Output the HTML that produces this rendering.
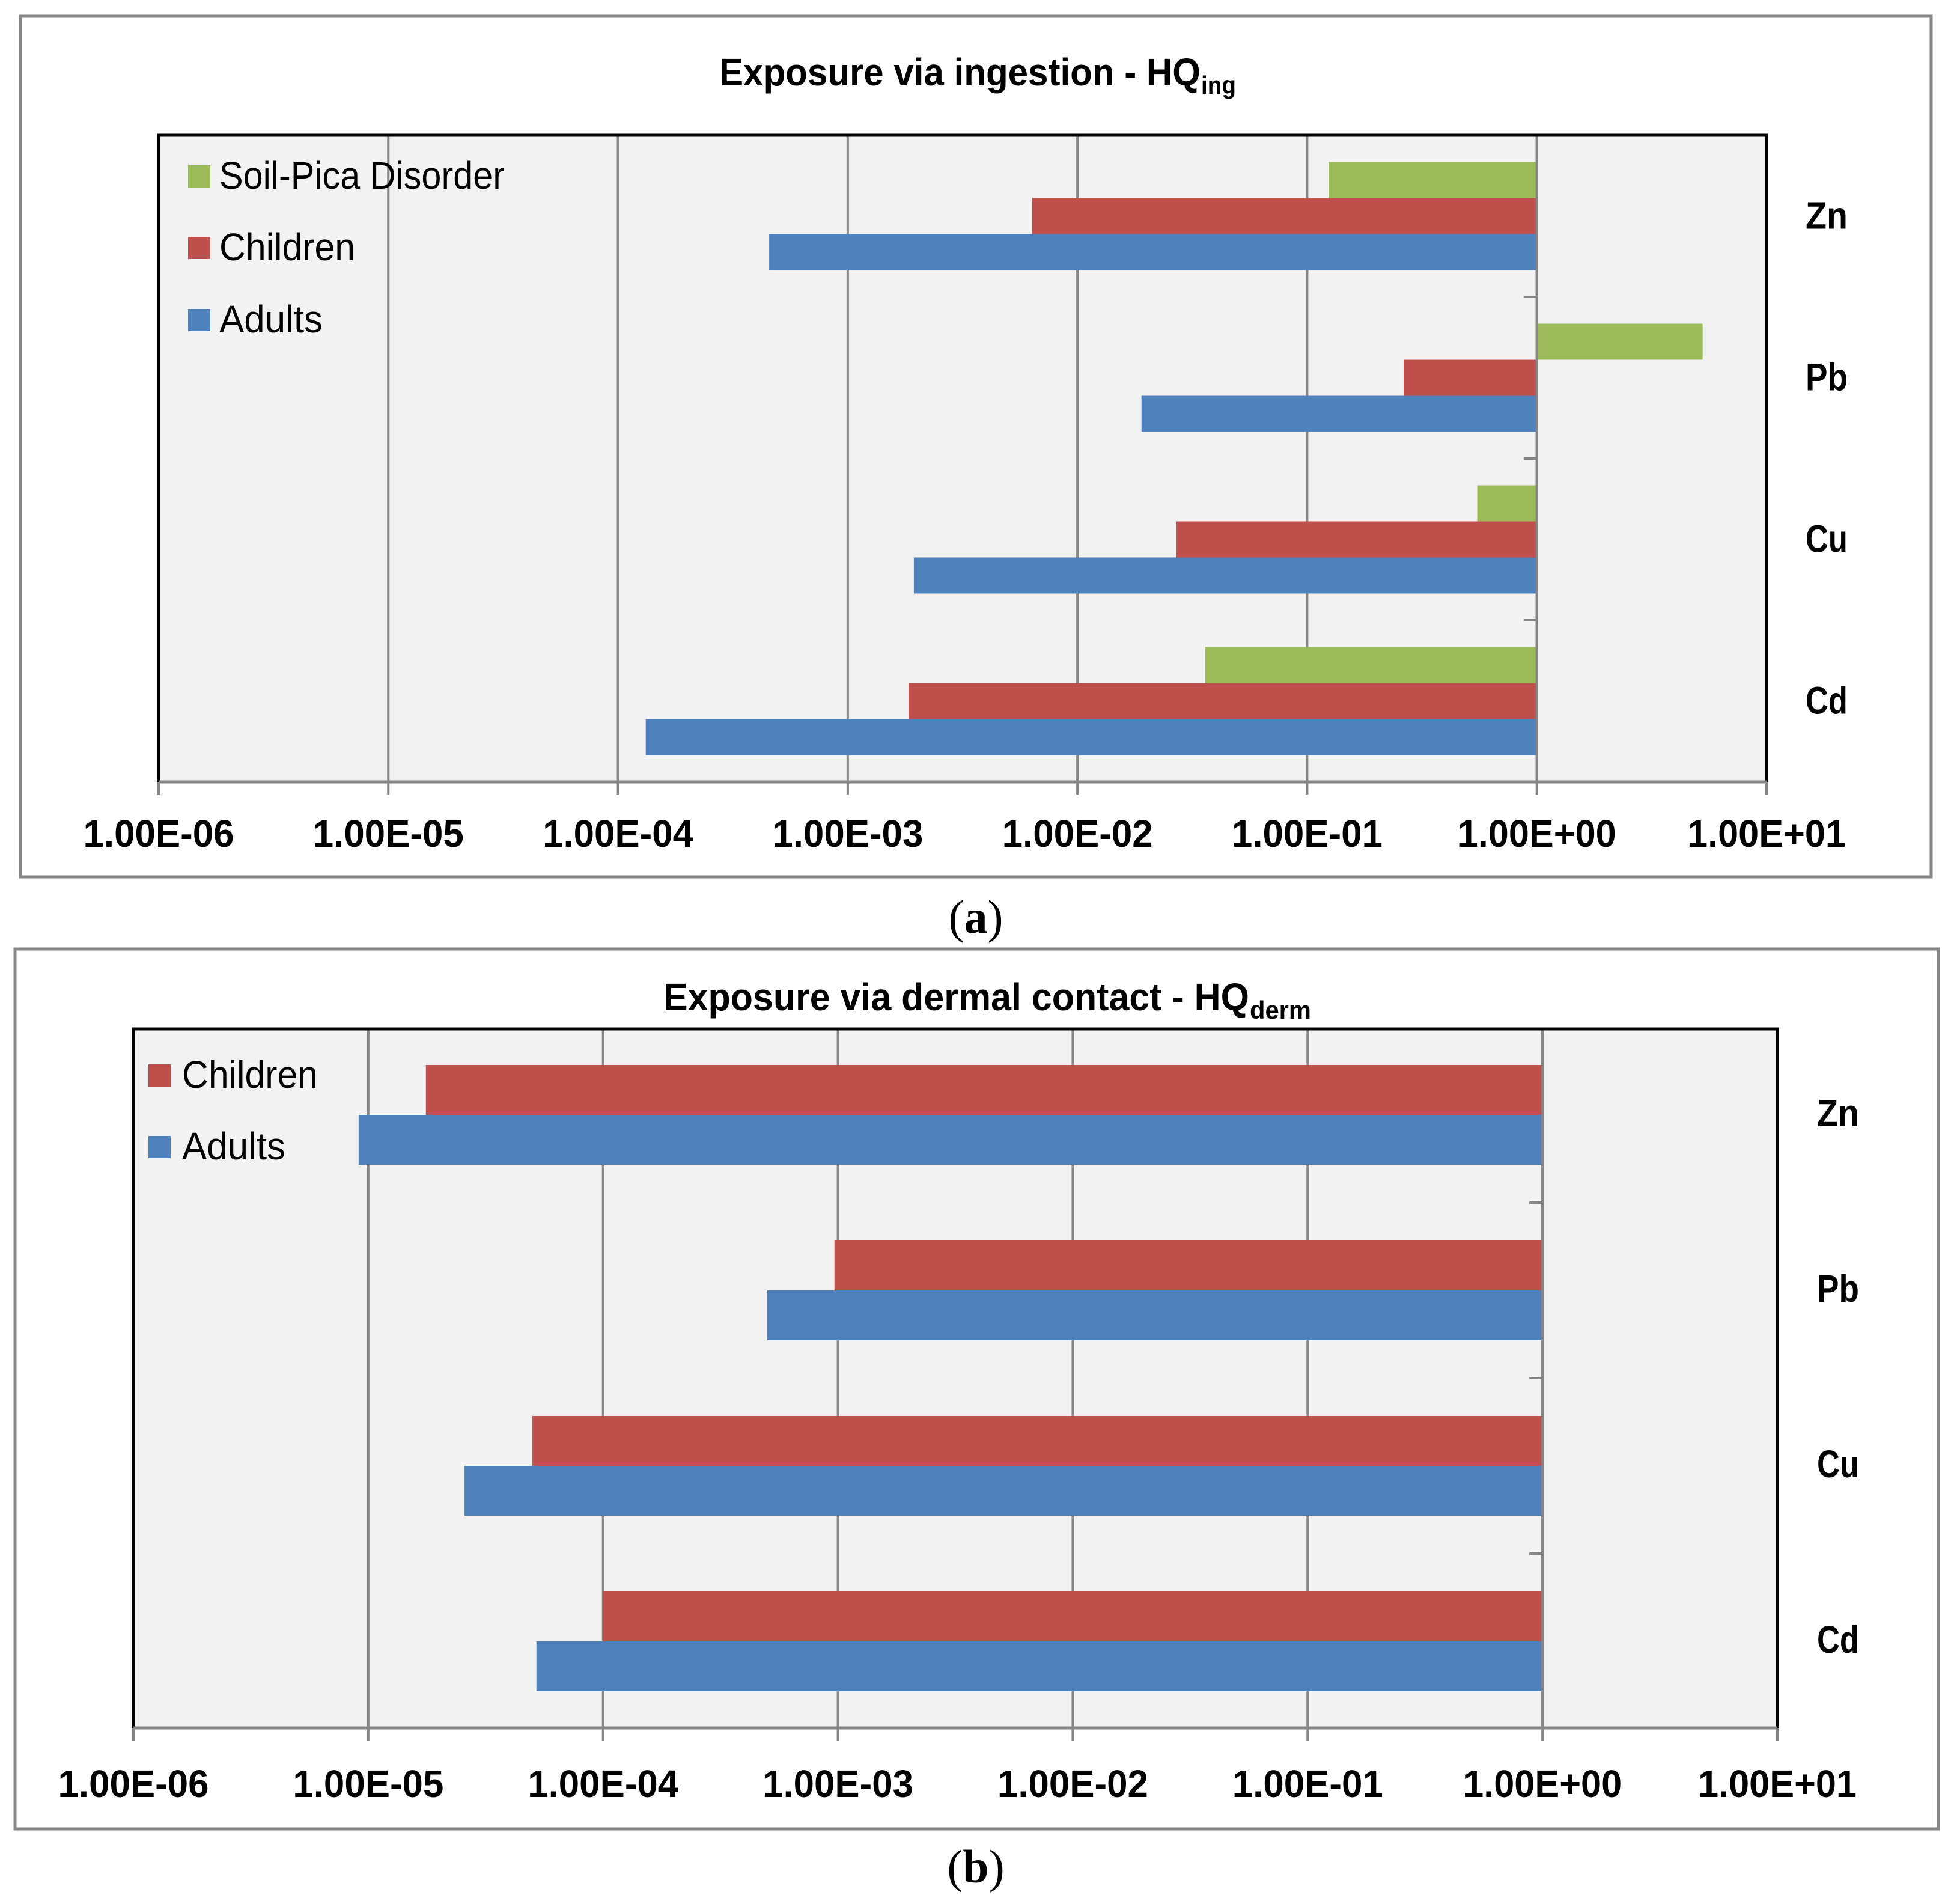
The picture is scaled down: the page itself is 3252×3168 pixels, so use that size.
<!DOCTYPE html>
<html lang="en">
<head>
<meta charset="utf-8">
<title>Hazard quotient exposure charts</title>
<style>
html,body{margin:0;padding:0;background:#fff;width:3252px;height:3168px;overflow:hidden}
svg{display:block}
text{font-family:"Liberation Sans",sans-serif;fill:#000}
.serif{font-family:"Liberation Serif",serif}
</style>
</head>
<body>
<svg id="figure" xmlns="http://www.w3.org/2000/svg" width="3252" height="3168" viewBox="0 0 3252 3168">
  <rect x="0" y="0" width="3252" height="3168" fill="#fff"/>
  <text class="serif" x="1624" y="1552" font-size="78" text-anchor="middle">(<tspan font-weight="bold">a</tspan>)</text>
  <text class="serif" x="1624" y="3132" font-size="78" text-anchor="middle">(<tspan font-weight="bold">b</tspan>)</text>
</svg>
<script>
const categories = ["Zn", "Pb", "Cu", "Cd"];
const tickLabels = ["1.00E-06", "1.00E-05", "1.00E-04", "1.00E-03", "1.00E-02", "1.00E-01", "1.00E+00", "1.00E+01"];

const ingestionSoilPica = [0.124, 5.27, 0.55, 0.036];
const ingestionChildren = [0.00635, 0.263, 0.027, 0.00184];
const ingestionAdults = [0.000455, 0.019, 0.00194, 0.000132];

const dermalChildren = [0.0000176, 0.000966, 0.00005, 0.0001];
const dermalAdults = [0.0000091, 0.0005, 0.0000257, 0.000052];

const GREEN = "#9BBB59", RED = "#C0504D", BLUE = "#4F81BD", GRID = "#868686";
const svg = document.getElementById("figure");

function mk(tag, attrs, parent) {
  const el = document.createElementNS("http://www.w3.org/2000/svg", tag);
  for (const k in attrs) el.setAttribute(k, attrs[k]);
  (parent || svg).appendChild(el);
  return el;
}
function slug(s) { return s.toLowerCase().replace(/[^a-z0-9]+/g, "-"); }

function drawChart(c) {
  const g = mk("g", {});
  
  

  const panel = mk("rect", {x: c.px0, y: c.py0, width: c.px1 - c.px0, height: c.py1 - c.py0, fill: "#fff", stroke: GRID, "stroke-width": 5}, g);
  
  

  const plot = mk("rect", {x: c.x0, y: c.y0, width: c.x1 - c.x0, height: c.y1 - c.y0, fill: "#F2F2F2"}, g);
  
  

  const lo = Math.log10(Number(tickLabels[0]));
  const hi = Math.log10(Number(tickLabels[tickLabels.length - 1]));
  const xScale = v => c.x0 + (Math.log10(v) - lo) / (hi - lo) * (c.x1 - c.x0);
  const catH = (c.bandY1 - c.bandY0) / categories.length;
  const yBand = i => c.bandY0 + i * catH;

  tickLabels.forEach(label => {
    const x = xScale(Number(label));
    const grid = mk("line", {x1: x, x2: x, y1: c.y0, y2: c.y1, stroke: GRID, "stroke-width": 4}, g);
    
    
    const tick = mk("line", {x1: x, x2: x, y1: c.y1, y2: c.y1 + 21, stroke: GRID, "stroke-width": 4}, g);
    
    
    const wide = label.indexOf("+") > -1;
    const t = mk("text", {x: x, y: c.tickY, "font-size": 64, "font-weight": "bold", "text-anchor": "middle", textLength: wide ? 264 : 251, lengthAdjust: "spacingAndGlyphs"}, g);
    t.textContent = label;
    
    
  });

  const nSeries = c.series.length;
  categories.forEach((cat, i) => {
    const mid = yBand(i) + catH / 2;
    c.series.forEach((s, j) => {
      const xv = xScale(s.values[i]);
      const xb = xScale(1);
      const top = mid - nSeries * c.barH / 2 + j * c.barH;
      const bar = mk("rect", {x: Math.min(xv, xb), y: top, width: Math.abs(xb - xv), height: c.barH, fill: s.color}, g);
      
      
    });
    const lab = mk("text", {x: c.catX, y: mid + c.catDy, "font-size": 64, "font-weight": "bold", "text-anchor": "middle", textLength: 70, lengthAdjust: "spacingAndGlyphs"}, g);
    lab.textContent = cat;
    
    
    if (i > 0) {
      const ct = mk("line", {x1: xScale(1) - 22, x2: xScale(1), y1: yBand(i), y2: yBand(i), stroke: GRID, "stroke-width": 4}, g);
      
      
    }
  });

  const zero = mk("line", {x1: xScale(1), x2: xScale(1), y1: c.y0, y2: c.y1, stroke: GRID, "stroke-width": 4}, g);
  
  

  const frame = mk("path", {d: `M${c.x0} ${c.y1} V${c.y0} H${c.x1} V${c.y1}`, fill: "none", stroke: "#000", "stroke-width": 5}, g);
  
  
  const base = mk("line", {x1: c.x0, x2: c.x1, y1: c.y1, y2: c.y1, stroke: GRID, "stroke-width": 5}, g);
  
  

  const title = mk("text", {x: c.titleX, y: c.titleY, "font-size": 64, "font-weight": "bold", textLength: c.titleW, lengthAdjust: "spacingAndGlyphs"}, g);
  title.textContent = c.title;
  
  
  const sub = mk("text", {x: c.titleX + c.titleW + 1, y: c.titleY + 14, "font-size": 42, "font-weight": "bold", textLength: c.subW, lengthAdjust: "spacingAndGlyphs"}, g);
  sub.textContent = c.sub;
  
  

  c.legend.forEach(item => {
    const sw = mk("rect", {x: c.legendX, y: item.y, width: 37, height: 37, fill: item.color}, g);
    
    
    const lt = mk("text", {x: c.legendX + c.legendGap, y: item.y + 39, "font-size": 64, textLength: item.w, lengthAdjust: "spacingAndGlyphs"}, g);
    lt.textContent = item.name;
    
    
  });
}

drawChart({
  id: "ingestion", px0: 34, px1: 3214, py0: 27, py1: 1459,
  x0: 264, x1: 2940, y0: 225, y1: 1301, bandY0: 225, bandY1: 1301, barH: 60,
  tickY: 1409, catX: 3040, catDy: 21,
  title: "Exposure via ingestion - HQ", titleX: 1197, titleY: 142, titleW: 801, sub: "ing", subW: 58,
  legendX: 313, legendGap: 52,
  legend: [
    {name: "Soil-Pica Disorder", color: GREEN, y: 275, w: 475},
    {name: "Children", color: RED, y: 394, w: 226},
    {name: "Adults", color: BLUE, y: 514, w: 172}
  ],
  series: [
    {name: "Soil-Pica Disorder", color: GREEN, values: ingestionSoilPica},
    {name: "Children", color: RED, values: ingestionChildren},
    {name: "Adults", color: BLUE, values: ingestionAdults}
  ]
});

drawChart({
  id: "dermal", px0: 25, px1: 3226, py0: 1579, py1: 3043,
  x0: 222, x1: 2958, y0: 1712, y1: 2875, bandY0: 1709, bandY1: 2877, barH: 83,
  tickY: 2990, catX: 3059, catDy: 19,
  title: "Exposure via dermal contact - HQ", titleX: 1104, titleY: 1681, titleW: 975, sub: "derm", subW: 102,
  legendX: 247, legendGap: 56,
  legend: [
    {name: "Children", color: RED, y: 1771, w: 226},
    {name: "Adults", color: BLUE, y: 1890, w: 172}
  ],
  series: [
    {name: "Children", color: RED, values: dermalChildren},
    {name: "Adults", color: BLUE, values: dermalAdults}
  ]
});
</script>
</body>
</html>
